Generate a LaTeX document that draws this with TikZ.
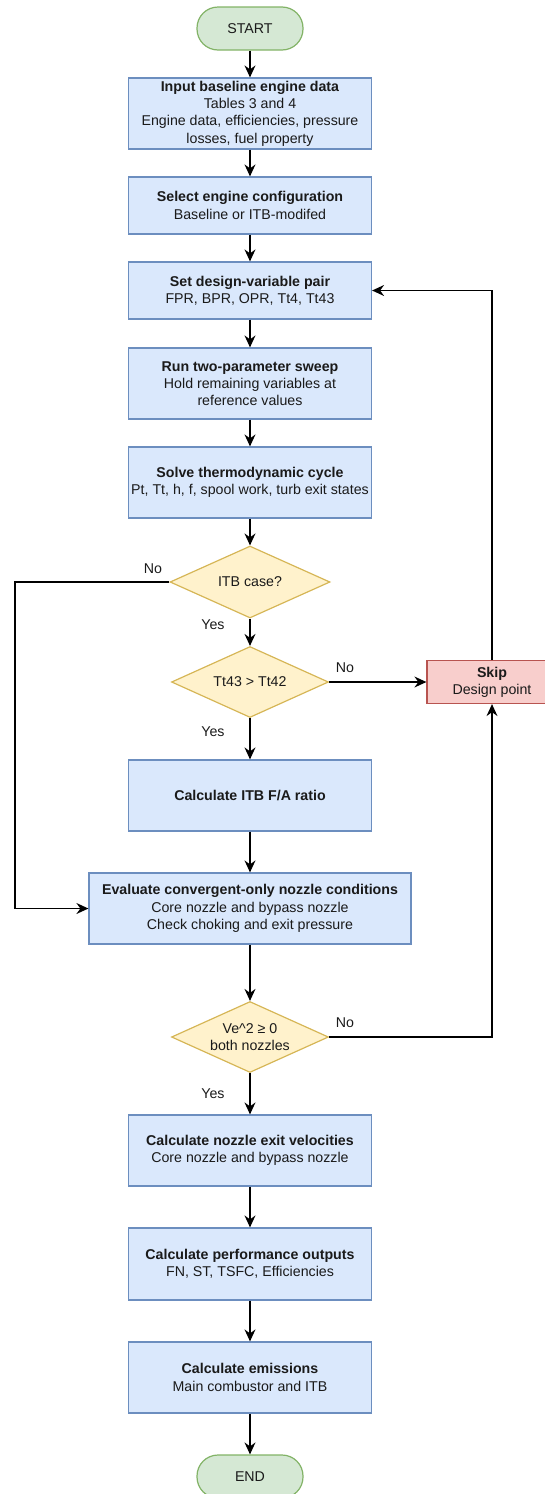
\documentclass[tikz,border=0pt]{standalone}
\usepackage{fontspec}
\setmainfont{Liberation Sans}
\usetikzlibrary{shapes.geometric,arrows.meta}
\definecolor{bfill}{HTML}{DAE8FC}
\definecolor{bline}{HTML}{6C8EBF}
\definecolor{gfill}{HTML}{D5E8D4}
\definecolor{gline}{HTML}{82B366}
\definecolor{yfill}{HTML}{FFF2CC}
\definecolor{yline}{HTML}{D6B656}
\definecolor{rfill}{HTML}{F8CECC}
\definecolor{rline}{HTML}{B85450}
\definecolor{txt}{HTML}{1A1A1A}
\begin{document}
\begin{tikzpicture}[x=1pt,y=-1pt,
  every node/.style={text=txt},
  base/.style={align=center, inner sep=0pt, line width=1.2pt, font=\fontsize{14.2}{17.3}\selectfont},
  proc/.style={base, draw=bline, fill=bfill, minimum width=243pt, minimum height=71pt},
  term/.style={base, draw=gline, fill=gfill, minimum width=106pt, minimum height=43pt, rounded corners=21pt},
  decide/.style={base, shape=diamond, draw=yline, fill=yfill, aspect=2.2, minimum width=157pt, minimum height=71pt},
  skipbox/.style={base, draw=rline, fill=rfill, minimum width=130pt, minimum height=43pt},
  lbl/.style={font=\fontsize{14.2}{17}\selectfont, inner sep=0pt},
  arr/.style={draw=black, line width=1.4pt, -{Stealth[length=12pt,width=11pt,inset=4pt]}}
]
\useasboundingbox (0,0) rectangle (545,1494);
\clip (0,0) rectangle (545,1494);

\node[term] (start) at (250,28.5) {START};
\node[proc] (input) at (250,113.5) {\textbf{Input baseline engine data}\\Tables 3 and 4\\Engine data, efficiencies, pressure\\losses, fuel property};
\node[proc, minimum height=57pt] (select) at (250,205.5) {\textbf{Select engine configuration}\\Baseline or ITB-modifed};
\node[proc, minimum height=57pt] (set) at (250,290.5) {\textbf{Set design-variable pair}\\FPR, BPR, OPR, Tt4, Tt43};
\node[proc] (run) at (250,383.5) {\textbf{Run two-parameter sweep}\\Hold remaining variables at\\reference values};
\node[proc] (solve) at (250,482.5) {\textbf{Solve thermodynamic cycle}\\Pt, Tt, h, f, spool work, turb exit states};
\node[decide, minimum width=160pt, minimum height=72pt] (itb) at (250,582) {ITB case?};
\node[decide] (tt) at (250,682) {Tt43 > Tt42};
\node[proc] (calcitb) at (250,795.5) {\textbf{Calculate ITB F/A ratio}};
\node[proc, minimum width=322pt] (eval) at (250,908.5) {\textbf{Evaluate convergent-only nozzle conditions}\\Core nozzle and bypass nozzle\\Check choking and exit pressure};
\node[decide] (ve) at (250,1037) {Ve\textasciicircum2 ≥ 0\\both nozzles};
\node[proc] (nozzle) at (250,1150.5) {\textbf{Calculate nozzle exit velocities}\\Core nozzle and bypass nozzle};
\node[proc, minimum height=72pt] (perf) at (250,1264) {\textbf{Calculate performance outputs}\\FN, ST, TSFC, Efficiencies};
\node[proc] (emis) at (250,1377.5) {\textbf{Calculate emissions}\\Main combustor and ITB};
\node[term] (end) at (250,1476.5) {END};
\node[skipbox] (skip) at (492,682) {\textbf{Skip}\\Design point};

\coordinate (lft) at (15,582);

\draw[arr] (start) -- (input);
\draw[arr] (input) -- (select);
\draw[arr] (select) -- (set);
\draw[arr] (set) -- (run);
\draw[arr] (run) -- (solve);
\draw[arr] (solve) -- (itb);
\draw[arr] (itb) -- (tt);
\draw[arr] (tt) -- (calcitb);
\draw[arr] (calcitb) -- (eval);
\draw[arr] (eval) -- (ve);
\draw[arr] (ve) -- (nozzle);
\draw[arr] (nozzle) -- (perf);
\draw[arr] (perf) -- (emis);
\draw[arr] (emis) -- (end);
\draw[arr] (itb.west) -- (lft) |- (eval.west);
\draw[arr] (tt.east) -- (skip.west);
\draw[arr] (skip.north) |- (set.east);
\draw[arr] (ve.east) -| (skip.south);

\node[lbl] (no1) at (153,569) {No};
\node[lbl] (yes1) at (213,625) {Yes};
\node[lbl] (no2) at (345,668) {No};
\node[lbl] (yes2) at (213,732) {Yes};
\node[lbl] (no3) at (345,1023) {No};
\node[lbl] (yes3) at (213,1094) {Yes};
\end{tikzpicture}
\end{document}
